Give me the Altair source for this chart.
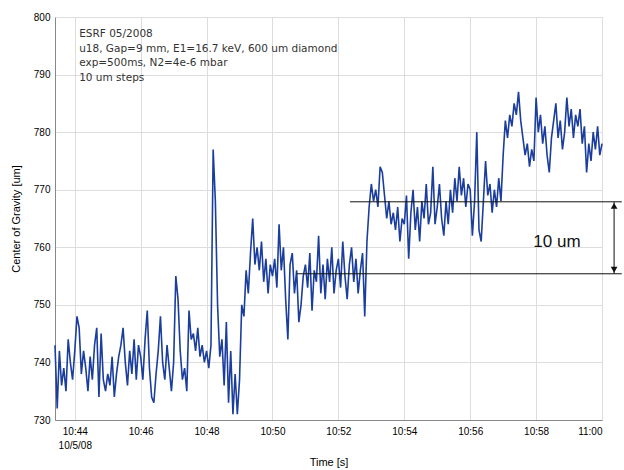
import altair as alt
import pandas as pd

# ---- data -----------------------------------------------------------------
start_time = "2008-05-10 10:43:24"
step_seconds = 4
cog_um = [
    # 10:43:24 - 10:43:56
    743, 732, 742, 736, 739, 735, 744, 740, 737,
    # 10:44
    742, 748, 746, 738, 742, 739, 735, 741, 737, 743, 746, 734, 745, 737, 735,
    # 10:45
    738, 736, 741, 734, 738, 741, 743, 746, 740, 736, 742, 738, 744, 737, 743,
    # 10:46
    741, 737, 744, 749, 739, 734, 733, 738, 742, 748, 740, 737, 743, 739, 735,
    # 10:47
    740, 755, 751, 742, 737, 739, 735, 749, 744, 745, 742, 746, 741, 743, 740,
    # 10:48
    742, 739, 743, 777, 768, 750, 741, 744, 736, 747, 733, 742, 731, 738, 731,
    # 10:49
    737, 750, 748, 756, 752, 759, 765, 757, 760, 756, 761, 754, 758, 752, 757,
    # 10:50
    755, 758, 753, 764, 756, 760, 751, 744, 757, 759, 752, 756, 747, 750, 755,
    # 10:51
    757, 753, 759, 749, 756, 754, 762, 752, 757, 751, 758, 754, 760, 752, 756,
    # 10:52
    758, 753, 761, 755, 751, 757, 760, 754, 758, 752, 756, 759, 748, 761, 767,
    # 10:53
    771, 768, 770, 767, 774, 773, 769, 765, 768, 764, 766, 763, 767, 761, 765,
    # 10:54
    764, 769, 758, 766, 770, 763, 767, 761, 768, 765, 771, 764, 766, 774, 764,
    # 10:55
    767, 771, 765, 762, 768, 764, 770, 766, 772, 768, 774, 769, 772, 767, 771,
    # 10:56
    770, 762, 768, 780, 763, 761, 768, 775, 769, 771, 766, 770, 767, 772, 768,
    # 10:57
    776, 782, 779, 783, 781, 785, 783, 787, 782, 779, 776, 778, 774, 777, 775,
    # 10:58
    786, 780, 783, 778, 781, 776, 773, 779, 782, 785, 779, 782, 777, 780, 786,
    # 10:59 - 11:00
    781, 784, 779, 783, 781, 784, 778, 781, 773, 778, 775, 780, 777, 781, 776, 778,
]

info_lines = ["ESRF 05/2008",
              "u18, Gap=9 mm, E1=16.7 keV, 600 um diamond",
              "exp=500ms, N2=4e-6 mbar",
              "10 um steps"]

level_names = ["upper", "lower"]
level_values = [767.9, 755.4]
level_starts = ["2008-05-10 10:52:21", "2008-05-10 10:50:44"]
level_end = "2008-05-10 11:00:36"
arrow_time = "2008-05-10 11:00:22"
step_label = "10 um"
step_label_time = "2008-05-10 10:58:38"
step_label_value = 760.9
info_time = "2008-05-10 10:44:08"
info_value = 797.9

y_domain = [730, 800]
tick_minutes = [44, 46, 48, 50, 52, 54, 56, 58, 60]

# ---- tables -----------------------------------------------------------------
times = pd.date_range(start=start_time, periods=len(cog_um), freq=f"{step_seconds}s")
df = pd.DataFrame({"t": times, "v": cog_um})

levels = pd.DataFrame({
    "name": level_names,
    "v": level_values,
    "t0": pd.to_datetime(level_starts),
    "t1": pd.to_datetime([level_end] * 2),
})
arrow = pd.DataFrame({"t": pd.to_datetime([arrow_time]),
                      "lo": [min(level_values)], "hi": [max(level_values)]})
label_df = pd.DataFrame({"t": pd.to_datetime([step_label_time]),
                         "v": [step_label_value], "txt": [step_label]})
info_df = pd.DataFrame({"t": pd.to_datetime([info_time]), "v": [info_value],
                        "txt": [info_lines]})

tick_values = [alt.DateTime(year=2008, month=5, date=10,
                            hours=10 + m // 60, minutes=m % 60) for m in tick_minutes]

xscale = alt.Scale(domain=[alt.DateTime(year=2008, month=5, date=10, hours=10, minutes=43, seconds=24),
                           alt.DateTime(year=2008, month=5, date=10, hours=11, minutes=0)])
yscale = alt.Scale(domain=y_domain, nice=False, zero=False)

x_axis = alt.Axis(
    values=tick_values, title="Time [s]",
    labelExpr="timeFormat(datum.value, '%H:%M') == '10:44' ? ['10:44', '10/5/08'] : timeFormat(datum.value, '%H:%M')",
    grid=True, ticks=False, labelPadding=6, labelLineHeight=14,
    titlePadding=6, titleFontWeight="normal",
)
y_axis = alt.Axis(values=list(range(730, 801, 10)), title="Center of Gravity [um]",
                  grid=True, ticks=False, labelPadding=5, titlePadding=12,
                  titleFontWeight="normal")

base_x = alt.X("t:T", scale=xscale, axis=x_axis)
base_y = alt.Y("v:Q", scale=yscale, axis=y_axis)

line = alt.Chart(df).mark_line(color="#1b3e9e", strokeWidth=1.6).encode(x=base_x, y=base_y)

hlines = alt.Chart(levels).mark_rule(color="#111111", strokeWidth=1, clip=False).encode(
    x=alt.X("t0:T", scale=xscale), x2="t1:T", y=alt.Y("v:Q", scale=yscale))

vrule = alt.Chart(arrow).mark_rule(color="#111111", strokeWidth=1, clip=False).encode(
    x=alt.X("t:T", scale=xscale), y=alt.Y("lo:Q", scale=yscale), y2="hi:Q")

head_up = alt.Chart(arrow).mark_point(shape="triangle-up", filled=True, color="#111111",
                                      size=45, opacity=1, yOffset=4, clip=False).encode(
    x=alt.X("t:T", scale=xscale), y=alt.Y("hi:Q", scale=yscale))
head_dn = alt.Chart(arrow).mark_point(shape="triangle-down", filled=True, color="#111111",
                                      size=45, opacity=1, yOffset=-4, clip=False).encode(
    x=alt.X("t:T", scale=xscale), y=alt.Y("lo:Q", scale=yscale))

step_text = alt.Chart(label_df).mark_text(font="Liberation Sans", fontSize=17, color="#111111",
                                          align="center", baseline="middle").encode(
    x=alt.X("t:T", scale=xscale), y=alt.Y("v:Q", scale=yscale), text="txt:N")

info_text = alt.Chart(info_df).mark_text(font="DejaVu Sans", fontSize=10.5, color="#333333",
                                         align="left", baseline="top", lineHeight=14.7).encode(
    x=alt.X("t:T", scale=xscale), y=alt.Y("v:Q", scale=yscale), text="txt")

chart = alt.layer(line, hlines, vrule, head_up, head_dn, step_text, info_text).properties(
    width=547, height=403,
    autosize=alt.AutoSizeParams(type="none"),
    padding={"left": 55, "top": 17, "right": 22, "bottom": 50},
).configure_view(
    stroke="#555555", strokeWidth=1,
).configure_axis(
    labelFont="Liberation Sans", labelFontSize=11, labelColor="#555555",
    titleFont="Liberation Sans", titleFontSize=10, titleColor="#555555",
    gridColor="#d4d6dc", gridWidth=1, domainColor="#555555",
).configure(background="white")

chart.save("out.html", embed_options={"renderer": "svg", "actions": False})
